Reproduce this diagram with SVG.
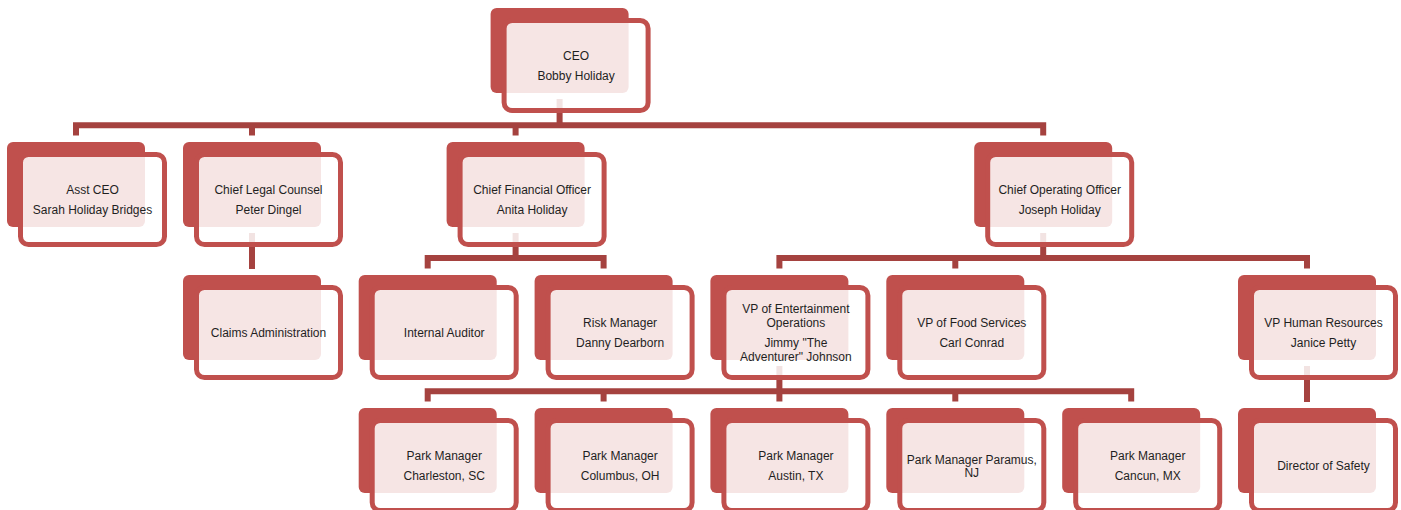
<svg xmlns="http://www.w3.org/2000/svg" width="1401" height="510" viewBox="0 0 1401 510">
<style>
.back{fill:#C0504D}
.box{fill:#FFFFFF;fill-opacity:0.85;stroke:#C0504D;stroke-width:5}
.t{font-family:"Liberation Sans",Arial,sans-serif;font-size:12px;fill:#1F1F1F;text-anchor:middle}
.conn{fill:none;stroke:#A5423F;stroke-width:6;stroke-linejoin:miter;stroke-linecap:butt}
</style>
<defs>
<g id="card">
<rect class="back" x="0" y="0" width="138" height="85" rx="6"/>
<rect class="box" x="13.5" y="12.5" width="144" height="90" rx="8"/>
</g>
</defs>
<rect width="1401" height="510" fill="#FFFFFF"/>
<g id="connectors">
<path class="conn" d="M559.6 99V125.3M76 135.5V125.3H1043.2V135.5M252 125.3V135.5M515.6 125.3V135.5"/>
<path class="conn" d="M252 233V269"/>
<path class="conn" d="M515.6 233V258M427.7 268.5V258H603.6V268.5"/>
<path class="conn" d="M1043.2 233V258M779.4 268.5V258H1307V268.5M955.3 258V268.5"/>
<path class="conn" d="M779.4 366V401.5M427.7 401.5V391.3H1131.2V401.5M603.6 391.3V401.5M955.3 391.3V401.5"/>
<path class="conn" d="M1307 366V402"/>
</g>
<g id="ceo" transform="translate(490.6,8)"><use href="#card"/><text class="t" x="85.5" y="52">CEO</text><text class="t" x="85.5" y="72">Bobby Holiday</text></g>
<g id="asst-ceo" transform="translate(7,142)"><use href="#card"/><text class="t" x="85.5" y="52">Asst CEO</text><text class="t" x="85.5" y="72">Sarah Holiday Bridges</text></g>
<g id="chief-legal" transform="translate(183,142)"><use href="#card"/><text class="t" x="85.5" y="52">Chief Legal Counsel</text><text class="t" x="85.5" y="72">Peter Dingel</text></g>
<g id="cfo" transform="translate(446.6,142)"><use href="#card"/><text class="t" x="85.5" y="52">Chief Financial Officer</text><text class="t" x="85.5" y="72">Anita Holiday</text></g>
<g id="coo" transform="translate(974.2,142)"><use href="#card"/><text class="t" x="85.5" y="52">Chief Operating Officer</text><text class="t" x="85.5" y="72">Joseph Holiday</text></g>
<g id="claims" transform="translate(183,275)"><use href="#card"/><text class="t" x="85.5" y="61.5">Claims Administration</text></g>
<g id="internal-auditor" transform="translate(358.7,275)"><use href="#card"/><text class="t" x="85.5" y="61.5">Internal Auditor</text></g>
<g id="risk-manager" transform="translate(534.6,275)"><use href="#card"/><text class="t" x="85.5" y="52">Risk Manager</text><text class="t" x="85.5" y="72">Danny Dearborn</text></g>
<g id="vp-entertainment" transform="translate(710.4,275)"><use href="#card"/><text class="t" x="85.5" y="37.5">VP of Entertainment</text><text class="t" x="85.5" y="52">Operations</text><text class="t" x="85.5" y="72">Jimmy "The</text><text class="t" x="85.5" y="86">Adventurer" Johnson</text></g>
<g id="vp-food" transform="translate(886.3,275)"><use href="#card"/><text class="t" x="85.5" y="52">VP of Food Services</text><text class="t" x="85.5" y="72">Carl Conrad</text></g>
<g id="vp-hr" transform="translate(1238,275)"><use href="#card"/><text class="t" x="85.5" y="52">VP Human Resources</text><text class="t" x="85.5" y="72">Janice Petty</text></g>
<g id="pm-charleston" transform="translate(358.7,408)"><use href="#card"/><text class="t" x="85.5" y="52">Park Manager</text><text class="t" x="85.5" y="72">Charleston, SC</text></g>
<g id="pm-columbus" transform="translate(534.6,408)"><use href="#card"/><text class="t" x="85.5" y="52">Park Manager</text><text class="t" x="85.5" y="72">Columbus, OH</text></g>
<g id="pm-austin" transform="translate(710.4,408)"><use href="#card"/><text class="t" x="85.5" y="52">Park Manager</text><text class="t" x="85.5" y="72">Austin, TX</text></g>
<g id="pm-paramus" transform="translate(886.3,408)"><use href="#card"/><text class="t" x="85.5" y="56">Park Manager Paramus,</text><text class="t" x="85.5" y="68.5">NJ</text></g>
<g id="pm-cancun" transform="translate(1062.2,408)"><use href="#card"/><text class="t" x="85.5" y="52">Park Manager</text><text class="t" x="85.5" y="72">Cancun, MX</text></g>
<g id="director-safety" transform="translate(1238,408)"><use href="#card"/><text class="t" x="85.5" y="61.5">Director of Safety</text></g>
</svg>
